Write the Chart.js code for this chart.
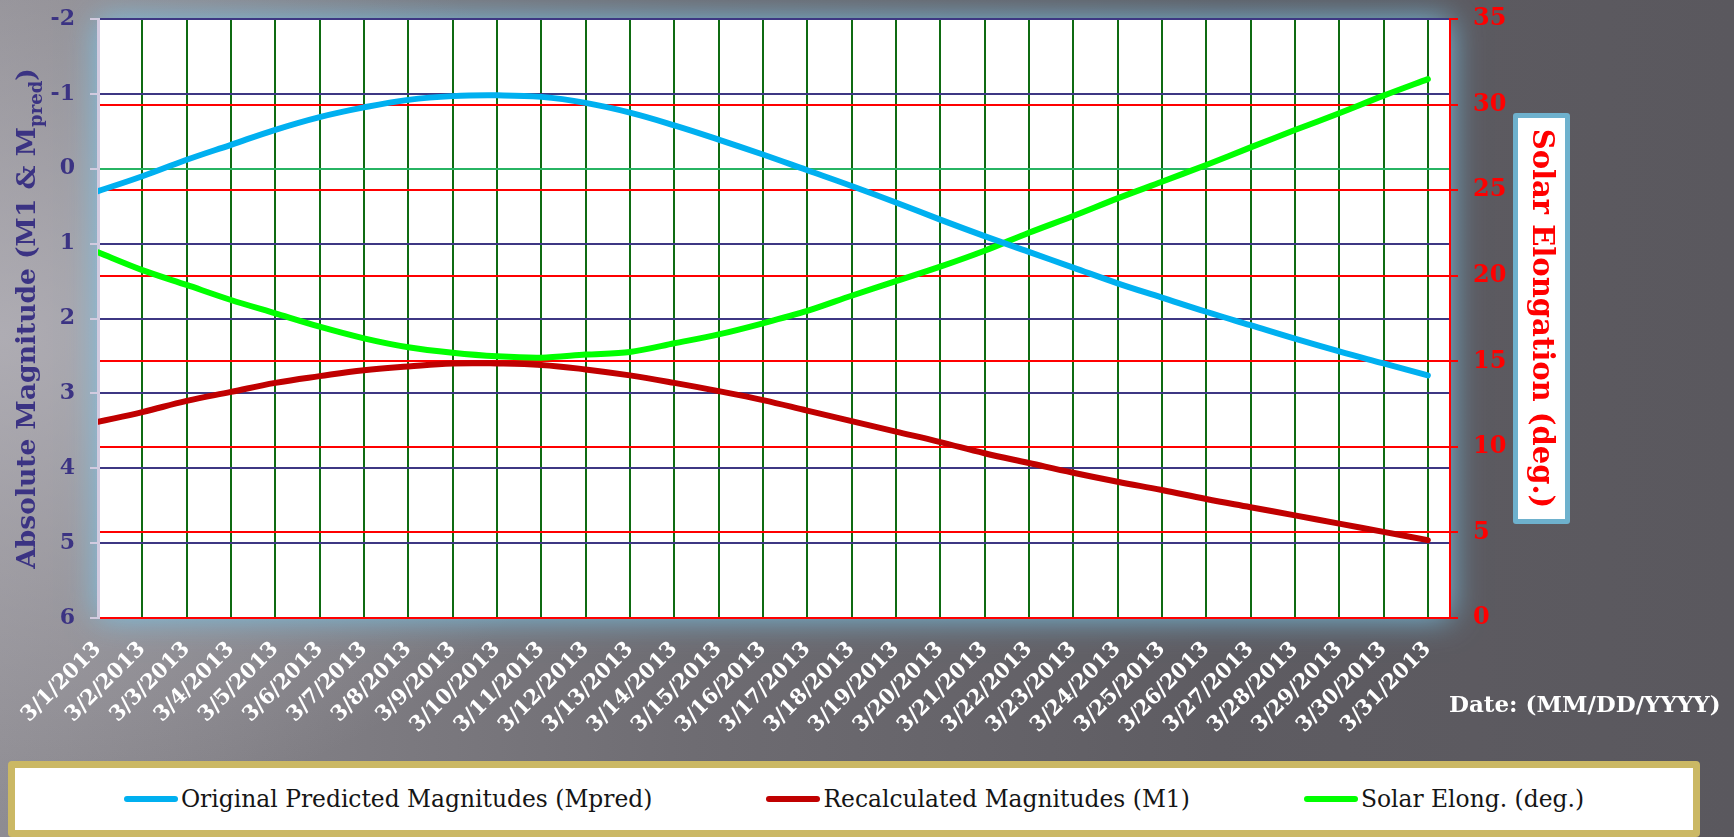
<!DOCTYPE html>
<html>
<head>
<meta charset="utf-8">
<title>Absolute Magnitude and Solar Elongation, March 2013</title>
<script src="https://cdn.jsdelivr.net/npm/chart.js@4.4.1/dist/chart.umd.min.js"></script>
<style>
  html, body { margin: 0; padding: 0; }
  body {
    width: 1734px; height: 837px; overflow: hidden; position: relative;
    background:
      radial-gradient(ellipse 900px 700px at 0% 40%, rgba(185,183,190,0.75), rgba(185,183,190,0) 70%),
      linear-gradient(90deg, #8e8c92 0%, #6e6c72 40%, #5e5c62 70%, #5a585e 100%);
  }
  #chart { position: absolute; left: 0; top: 0; }
  #legend {
    position: absolute; left: 8px; top: 761px; width: 1692px; height: 76px;
    box-sizing: border-box; border: 7px solid #cbb864; border-radius: 4px;
    background: #ffffff;
    display: flex; align-items: center; justify-content: center; gap: 114px;
    font-family: "DejaVu Serif", serif; font-size: 23.4px; color: #151515;
  }
  .item { display: flex; align-items: center; white-space: nowrap; }
  .swatch { width: 54px; height: 6px; border-radius: 3px; margin-right: 3px; }
</style>
</head>
<body>
<canvas id="chart" width="1734" height="837"></canvas>
<div id="legend"></div>
<script>
// Daily dates of the observing window
const dateLabels = [
  '3/1/2013', '3/2/2013', '3/3/2013', '3/4/2013', '3/5/2013', '3/6/2013', '3/7/2013',
  '3/8/2013', '3/9/2013', '3/10/2013', '3/11/2013', '3/12/2013', '3/13/2013', '3/14/2013',
  '3/15/2013', '3/16/2013', '3/17/2013', '3/18/2013', '3/19/2013', '3/20/2013', '3/21/2013',
  '3/22/2013', '3/23/2013', '3/24/2013', '3/25/2013', '3/26/2013', '3/27/2013', '3/28/2013',
  '3/29/2013', '3/30/2013', '3/31/2013'
];

// Tick values of the two vertical axes
const magnitudeTicks = [-2, -1, 0, 1, 2, 3, 4, 5, 6];
const elongationTicks = [0, 5, 10, 15, 20, 25, 30, 35];

// Original predicted magnitudes (Mpred)
const mpred = [
  0.30, 0.10, -0.12, -0.32, -0.52, -0.69, -0.82, -0.92, -0.97, -0.98, -0.96,
  -0.88, -0.75, -0.58, -0.39, -0.19, 0.02, 0.23, 0.45, 0.68, 0.90,
  1.11, 1.32, 1.53, 1.72, 1.91, 2.09, 2.27, 2.44, 2.60, 2.76
];

// Recalculated magnitudes (M1)
const m1 = [
  3.38, 3.25, 3.10, 2.98, 2.86, 2.77, 2.69, 2.64, 2.60, 2.60, 2.62,
  2.68, 2.76, 2.86, 2.97, 3.09, 3.23, 3.37, 3.51, 3.65, 3.80,
  3.93, 4.06, 4.18, 4.29, 4.41, 4.52, 4.63, 4.74, 4.85, 4.96
];

// Solar elongation in degrees
const solarElong = [
  21.37, 20.33, 19.46, 18.58, 17.80, 17.02, 16.34, 15.82, 15.50, 15.29, 15.21,
  15.39, 15.54, 16.05, 16.57, 17.22, 17.94, 18.83, 19.68, 20.53, 21.46,
  22.51, 23.49, 24.52, 25.49, 26.47, 27.50, 28.51, 29.49, 30.52, 31.49
];

const SERIF = '"DejaVu Serif", serif';
const NAVY = '#3b3383';

const toPoints = values => values.map((v, i) => ({ x: i, y: v }));

// Vertical axes keep a fixed width and do not push the plot down for their end labels
const fixVertical = width => s => {
  s.width = width;
  s.paddingTop = 0;
  s.paddingBottom = 0;
};

// White plot panel with a soft blue glow, axis titles and the date caption
const decorations = {
  id: 'decorations',
  beforeDraw(chart) {
    const { ctx, chartArea: a } = chart;
    ctx.save();
    ctx.shadowColor = 'rgba(120,196,232,0.95)';
    ctx.shadowBlur = 30;
    ctx.fillStyle = '#ffffff';
    ctx.fillRect(a.left, a.top, a.right - a.left, a.bottom - a.top);
    ctx.restore();
  },
  afterDraw(chart) {
    const { ctx, chartArea: a } = chart;
    const cy = (a.top + a.bottom) / 2;

    // Left axis title, with "pred" as a subscript
    ctx.save();
    ctx.translate(a.left - 63, cy);
    ctx.rotate(-Math.PI / 2);
    ctx.fillStyle = NAVY;
    ctx.textBaseline = 'alphabetic';
    const mainFont = 'bold 26.5px ' + SERIF;
    const subFont = 'bold 18px ' + SERIF;
    const parts = [
      { t: 'Absolute Magnitude (M1 & M', f: mainFont, dy: 0 },
      { t: 'pred', f: subFont, dy: 7 },
      { t: ')', f: mainFont, dy: 0 }
    ];
    let total = 0;
    parts.forEach(p => { ctx.font = p.f; p.w = ctx.measureText(p.t).width; total += p.w; });
    let x = -total / 2;
    parts.forEach(p => { ctx.font = p.f; ctx.fillText(p.t, x, p.dy); x += p.w; });
    ctx.restore();

    // Right axis title in a framed box
    const bx = a.right + 63, bw = 57, bh = 411, by = cy - bh / 2;
    ctx.save();
    ctx.fillStyle = '#6eb1cd';
    ctx.beginPath();
    ctx.roundRect(bx, by, bw, bh, 3);
    ctx.fill();
    ctx.fillStyle = '#ffffff';
    ctx.fillRect(bx + 5, by + 5, bw - 10, bh - 10);
    ctx.translate(bx + bw / 2, cy);
    ctx.rotate(Math.PI / 2);
    ctx.fillStyle = '#ff0000';
    ctx.font = 'bold 29px ' + SERIF;
    ctx.textAlign = 'center';
    ctx.textBaseline = 'middle';
    ctx.fillText('Solar Elongation (deg.)', 0, 1);
    ctx.restore();

    // Date format caption
    ctx.save();
    ctx.fillStyle = '#ffffff';
    ctx.font = 'bold 23px ' + SERIF;
    ctx.textAlign = 'left';
    ctx.textBaseline = 'alphabetic';
    ctx.fillText('Date: (MM/DD/YYYY)', a.right - 1, a.bottom + 94);
    ctx.restore();
  }
};

const chart = new Chart(document.getElementById('chart'), {
  type: 'line',
  data: {
    datasets: [
      {
        label: 'Original Predicted Magnitudes (Mpred)',
        data: toPoints(mpred), yAxisID: 'y',
        borderColor: '#00b0f0', backgroundColor: '#00b0f0',
        borderWidth: 6, tension: 0.4, pointRadius: 0, borderCapStyle: 'round'
      },
      {
        label: 'Recalculated Magnitudes (M1)',
        data: toPoints(m1), yAxisID: 'y',
        borderColor: '#c00000', backgroundColor: '#c00000',
        borderWidth: 6, tension: 0.4, pointRadius: 0, borderCapStyle: 'round'
      },
      {
        label: 'Solar Elong. (deg.)',
        data: toPoints(solarElong), yAxisID: 'y2',
        borderColor: '#00ff00', backgroundColor: '#00ff00',
        borderWidth: 6, tension: 0.3, pointRadius: 0, borderCapStyle: 'round'
      }
    ]
  },
  options: {
    responsive: false,
    animation: false,
    events: [],
    layout: { padding: { top: 19, right: 164, bottom: 99, left: 0 } },
    plugins: { legend: { display: false }, tooltip: { enabled: false } },
    scales: {
      x: {
        type: 'linear', min: 0, max: dateLabels.length - 0.5,
        afterBuildTicks: s => { s.ticks = dateLabels.map((_, i) => ({ value: i })); },
        afterFit: s => { s.height = 120; },
        ticks: {
          autoSkip: false, minRotation: 45, maxRotation: 45, padding: 19,
          color: '#ffffff', font: { family: SERIF, size: 21, weight: 'bold' },
          callback: v => dateLabels[v]
        },
        grid: {
          color: c => (c.tick && c.tick.value === 0 ? 'rgba(0,0,0,0)' : '#0f6b12'),
          lineWidth: 2, drawTicks: false, tickLength: 0
        },
        border: { display: false }
      },
      y: {
        position: 'left', reverse: true,
        min: magnitudeTicks[0], max: magnitudeTicks[magnitudeTicks.length - 1],
        afterBuildTicks: s => { s.ticks = magnitudeTicks.map(v => ({ value: v })); },
        afterFit: fixVertical(98),
        ticks: { padding: 15, color: NAVY, font: { family: SERIF, size: 22, weight: 'bold' } },
        grid: {
          color: c => (c.tick && c.tick.value === 0 ? '#27b463' : '#3d3783'),
          lineWidth: 2, tickLength: 8, tickColor: '#d2cbe0'
        },
        border: { color: '#d2cbe0', width: 3 }
      },
      y2: {
        position: 'right',
        min: elongationTicks[0], max: elongationTicks[elongationTicks.length - 1],
        afterBuildTicks: s => { s.ticks = elongationTicks.map(v => ({ value: v })); },
        afterFit: fixVertical(120),
        ticks: { padding: 15, color: '#ff0000', font: { family: SERIF, size: 24, weight: 'bold' } },
        grid: {
          color: c => (c.tick && c.tick.value === 35 ? 'rgba(0,0,0,0)' : '#ff0000'),
          lineWidth: 2, tickLength: 8, tickColor: '#ff0000'
        },
        border: { color: '#ff0000', width: 2 }
      }
    }
  },
  plugins: [decorations]
});

// Legend built from the datasets
const legend = document.getElementById('legend');
chart.data.datasets.forEach(ds => {
  const item = document.createElement('div');
  item.className = 'item';
  const sw = document.createElement('span');
  sw.className = 'swatch';
  sw.style.background = ds.borderColor;
  const label = document.createElement('span');
  label.textContent = ds.label;
  item.appendChild(sw);
  item.appendChild(label);
  legend.appendChild(item);
});
</script>
</body>
</html>
